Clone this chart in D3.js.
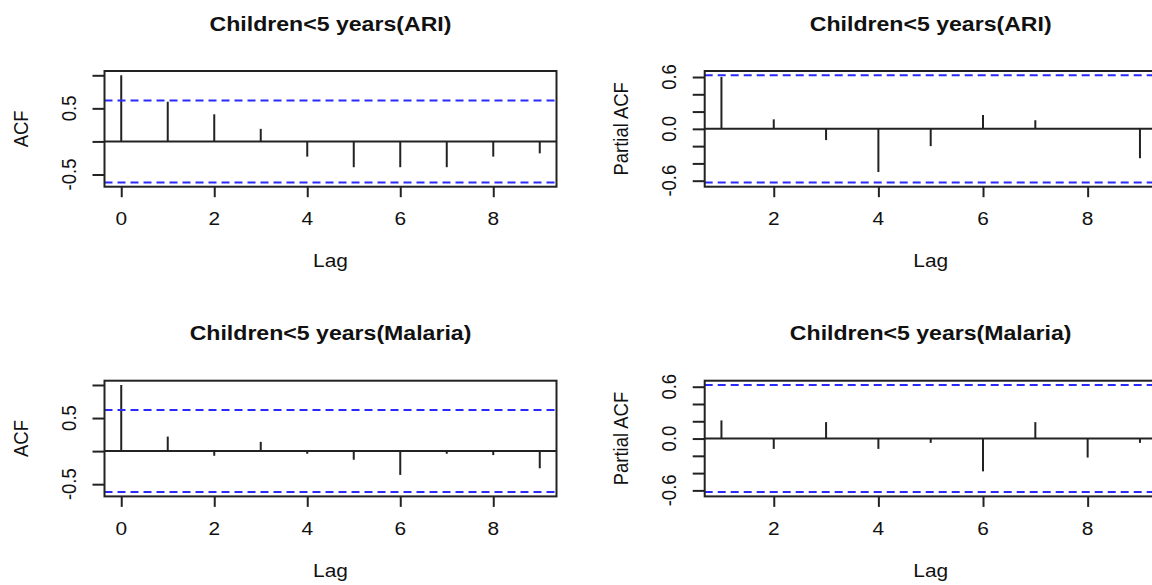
<!DOCTYPE html>
<html>
<head>
<meta charset="utf-8">
<script src="https://cdn.jsdelivr.net/npm/d3@7"></script>
<style>
  html, body { margin: 0; padding: 0; background: #fff; }
  svg { display: block; }
  text { font-family: "Liberation Sans", Arial, sans-serif; fill: #111; }
</style>
</head>
<body>
<svg id="chart" width="1152" height="585"></svg>
<script>
// ---- data ----
const lagsACF = [0, 1, 2, 3, 4, 5, 6, 7, 8, 9];
const lagsPACF = [1, 2, 3, 4, 5, 6, 7, 8, 9];
const acfARI = [1.00, 0.60, 0.41, 0.19, -0.23, -0.39, -0.39, -0.39, -0.23, -0.18];
const pacfARI = [0.60, 0.11, -0.13, -0.50, -0.20, 0.16, 0.10, 0.00, -0.34];
const acfMalaria = [1.00, 0.22, -0.07, 0.14, -0.04, -0.13, -0.36, -0.04, -0.06, -0.26];
const pacfMalaria = [0.21, -0.12, 0.19, -0.12, -0.05, -0.38, 0.19, -0.22, -0.05];
const ciBound = 0.62;
const titles = ["Children<5 years(ARI)", "Children<5 years(ARI)", "Children<5 years(Malaria)", "Children<5 years(Malaria)"];
const yLabels = ["ACF", "Partial ACF", "ACF", "Partial ACF"];
const xLabel = "Lag";
const acfYTicks = [-0.5, 0, 0.5, 1.0];
const acfYTickLabels = ["-0.5", "", "0.5", ""];
const pacfYTicks = [-0.6, -0.4, -0.2, 0, 0.2, 0.4, 0.6];
const pacfYTickLabels = ["-0.6", "", "", "0.0", "", "", "0.6"];
const acfXTicks = [0, 2, 4, 6, 8];
const pacfXTicks = [2, 4, 6, 8];

// ---- layout ----
const svg = d3.select("#chart");
const boxW = 452, boxH = 115.7;
const boxLefts = [104.5, 704.7];
const boxTops = [71, 380.7];
const SX = 1.13;          // horizontal stretch of the original raster
const FS = 18.5;
const LW = 2;

function hText(g, x, y, str, size, weight, sx) {
  g.append("text")
    .attr("transform", `translate(${x},${y}) scale(${sx},1)`)
    .attr("text-anchor", "middle")
    .style("font-size", size + "px")
    .style("font-weight", weight)
    .text(str);
}
function vText(g, x, y, str, size) {
  g.append("text")
    .attr("transform", `translate(${x},${y}) scale(${SX},1) rotate(-90)`)
    .attr("text-anchor", "middle")
    .style("font-size", size + "px")
    .text(str);
}

const panels = [
  { lags: lagsACF, vals: acfARI, type: "acf", col: 0, row: 0 },
  { lags: lagsPACF, vals: pacfARI, type: "pacf", col: 1, row: 0 },
  { lags: lagsACF, vals: acfMalaria, type: "acf", col: 0, row: 1 },
  { lags: lagsPACF, vals: pacfMalaria, type: "pacf", col: 1, row: 1 }
];

panels.forEach((p, i) => {
  const x0 = boxLefts[p.col], y0 = boxTops[p.row];
  const g = svg.append("g");

  // R-style ranges with 4% extension
  const xr = d3.extent(p.lags);
  const xpad = (xr[1] - xr[0]) * 0.04;
  const yr = d3.extent([ciBound, -ciBound, ...p.vals]);
  const ypad = (yr[1] - yr[0]) * 0.04;

  const x = d3.scaleLinear().domain([xr[0] - xpad, xr[1] + xpad]).range([x0, x0 + boxW]);
  const y = d3.scaleLinear().domain([yr[0] - ypad, yr[1] + ypad]).range([y0 + boxH, y0]);

  const yTicks = p.type === "acf" ? acfYTicks : pacfYTicks;
  const yTickLabels = p.type === "acf" ? acfYTickLabels : pacfYTickLabels;
  const xTicks = p.type === "acf" ? acfXTicks : pacfXTicks;

  // axes ticks
  const ax = g.append("g").attr("transform", `translate(0,${y0 + boxH})`)
    .call(d3.axisBottom(x).tickValues(xTicks).tickSize(10.5).tickFormat(""));
  const ay = g.append("g").attr("transform", `translate(${x0},0)`)
    .call(d3.axisLeft(y).tickValues(yTicks).tickSize(12).tickFormat(""));
  [ax, ay].forEach(a => {
    a.select(".domain").remove();
    a.selectAll(".tick line").attr("stroke", "#222").attr("stroke-width", LW);
  });

  // tick labels
  xTicks.forEach(t => hText(g, x(t), y0 + boxH + 38.3, String(t), FS, "normal", SX));
  yTicks.forEach((t, k) => {
    if (yTickLabels[k]) vText(g, x0 - 28.5, y(t), yTickLabels[k], FS);
  });

  // zero line
  g.append("line")
    .attr("x1", x0).attr("x2", x0 + boxW)
    .attr("y1", y(0)).attr("y2", y(0))
    .attr("stroke", "#222").attr("stroke-width", LW);

  // spikes
  g.selectAll("line.spike").data(p.vals).enter().append("line")
    .attr("class", "spike")
    .attr("x1", (d, k) => x(p.lags[k])).attr("x2", (d, k) => x(p.lags[k]))
    .attr("y1", y(0)).attr("y2", d => y(d))
    .attr("stroke", "#222").attr("stroke-width", LW);

  // confidence bounds
  [ciBound, -ciBound].forEach(c => {
    g.append("line")
      .attr("x1", x0).attr("x2", x0 + boxW)
      .attr("y1", y(c)).attr("y2", y(c))
      .attr("stroke", "#2a2aff").attr("stroke-width", 2)
      .attr("stroke-dasharray", "8,5");
  });

  // box
  g.append("rect")
    .attr("x", x0).attr("y", y0).attr("width", boxW).attr("height", boxH)
    .attr("fill", "none").attr("stroke", "#222").attr("stroke-width", LW);

  // title, axis labels
  hText(g, x0 + boxW / 2, y0 - 40.5, titles[i], 21, "bold", 1.1);
  hText(g, x0 + boxW / 2, y0 + boxH + 80.6, xLabel, FS, "normal", SX);
  vText(g, x0 - 76.3, y0 + boxH / 2, yLabels[i], FS);
});
</script>
</body>
</html>
